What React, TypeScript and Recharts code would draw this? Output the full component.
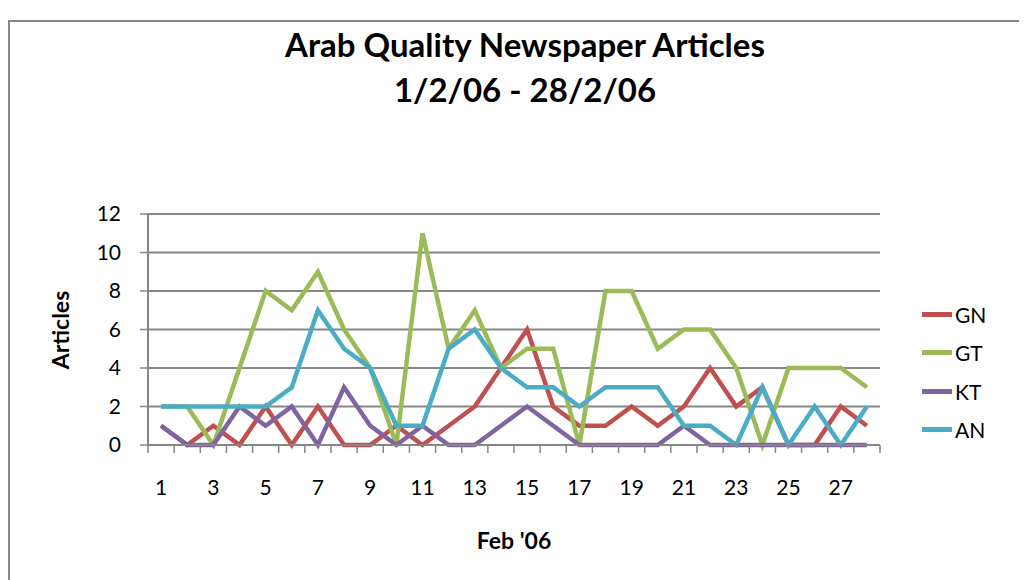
import { LineChart, Line, XAxis, YAxis, CartesianGrid } from 'recharts';

const days = Array.from({ length: 28 }, (_, i) => i + 1);
const gn = [1, 0, 1, 0, 2, 0, 2, 0, 0, 1, 0, 1, 2, 4, 6, 2, 1, 1, 2, 1, 2, 4, 2, 3, 0, 0, 2, 1];
const gt = [2, 2, 0, 4, 8, 7, 9, 6, 4, 0, 11, 5, 7, 4, 5, 5, 0, 8, 8, 5, 6, 6, 4, 0, 4, 4, 4, 3];
const kt = [1, 0, 0, 2, 1, 2, 0, 3, 1, 0, 1, 0, 0, 1, 2, 1, 0, 0, 0, 0, 1, 0, 0, 0, 0, 0, 0, 0];
const an = [2, 2, 2, 2, 2, 3, 7, 5, 4, 1, 1, 5, 6, 4, 3, 3, 2, 3, 3, 3, 1, 1, 0, 3, 0, 2, 0, 2];
const xTickLabels = [1, 3, 5, 7, 9, 11, 13, 15, 17, 19, 21, 23, 25, 27];
// tick marks sit between the categories, like Excel
const xTickMarks = Array.from({ length: 29 }, (_, i) => i + 0.5);
const yTicks = [0, 2, 4, 6, 8, 10, 12];

const series = [
  { key: 'GN', values: gn, color: '#C0504D' },
  { key: 'GT', values: gt, color: '#9BBB59' },
  { key: 'KT', values: kt, color: '#8064A2' },
  { key: 'AN', values: an, color: '#4BACC6' },
];

const data = days.map((d, i) => {
  const row: Record<string, number> = { day: d };
  series.forEach(s => { row[s.key] = s.values[i]; });
  return row;
});

const font = 'Lato, "Open Sans", sans-serif';
const axisGray = '#868686';
const allXTicks = [...xTickMarks, ...xTickLabels].sort((a, b) => a - b);

const XTick = (props: any) => {
  const { x, y, payload } = props;
  const v = payload.value;
  if (!Number.isInteger(v)) {
    return <line x1={x} x2={x} y1={y} y2={y + 8} stroke={axisGray} strokeWidth={1.5} />;
  }
  return (
    <text x={x} y={y + 41} textAnchor="middle" dominantBaseline="central" fill="#000" fontSize={21} fontFamily={font}>
      {v}
    </text>
  );
};

export default function App() {
  return (
    <div style={{ position: 'relative', width: 1019, height: 572, overflow: 'hidden', fontFamily: font, background: '#fff' }}>
      <div style={{ position: 'absolute', left: 0, top: 12, width: 1100, height: 700, border: `2px solid ${axisGray}` }} />
      <div style={{ position: 'absolute', left: 0, width: 1034, top: 14, textAlign: 'center', fontWeight: 700, fontSize: 33, lineHeight: '45px', color: '#000' }}>
        Arab Quality Newspaper Articles<br />1/2/06 - 28/2/06
      </div>
      <div style={{ position: 'absolute', left: 52, top: 322, transform: 'translate(-50%, -50%) rotate(-90deg)', fontWeight: 700, fontSize: 23, color: '#000', whiteSpace: 'nowrap' }}>
        Articles
      </div>
      <div style={{ position: 'absolute', left: 506, top: 532, transform: 'translate(-50%, -50%)', fontWeight: 700, fontSize: 23, color: '#000', whiteSpace: 'nowrap' }}>
        Feb '06
      </div>
      {series.map((s, i) => (
        <div key={s.key} style={{ position: 'absolute', left: 914, top: 306 + i * 38.5 - 12, height: 24, display: 'flex', alignItems: 'center' }}>
          <div style={{ width: 30, height: 5, background: s.color, marginRight: 3 }} />
          <span style={{ fontSize: 21, color: '#000' }}>{s.key}</span>
        </div>
      ))}
      <div style={{ position: 'absolute', left: 0, top: 0 }}>
        <LineChart width={1019} height={572} data={data} margin={{ top: 206, right: 147, bottom: 105, left: 70 }}>
          <CartesianGrid vertical={false} stroke={axisGray} strokeWidth={2} />
          <XAxis
            dataKey="day"
            type="number"
            domain={[0.5, 28.5]}
            ticks={allXTicks}
            interval={0}
            axisLine={{ stroke: axisGray, strokeWidth: 2 }}
            tickLine={false}
            tickSize={0}
            tickMargin={0}
            tick={<XTick />}
            height={30}
          />
          <YAxis
            domain={[0, 12]}
            ticks={yTicks}
            interval={0}
            axisLine={{ stroke: axisGray, strokeWidth: 2 }}
            tickLine={{ stroke: axisGray, strokeWidth: 1.5 }}
            tickSize={8}
            tickMargin={19}
            tick={{ fill: '#000', fontSize: 21, fontFamily: font }}
            width={70}
          />
          {series.map(s => (
            <Line
              key={s.key}
              dataKey={s.key}
              stroke={s.color}
              strokeWidth={4.5}
              dot={false}
              type="linear"
              isAnimationActive={false}
            />
          ))}
        </LineChart>
      </div>
    </div>
  );
}
